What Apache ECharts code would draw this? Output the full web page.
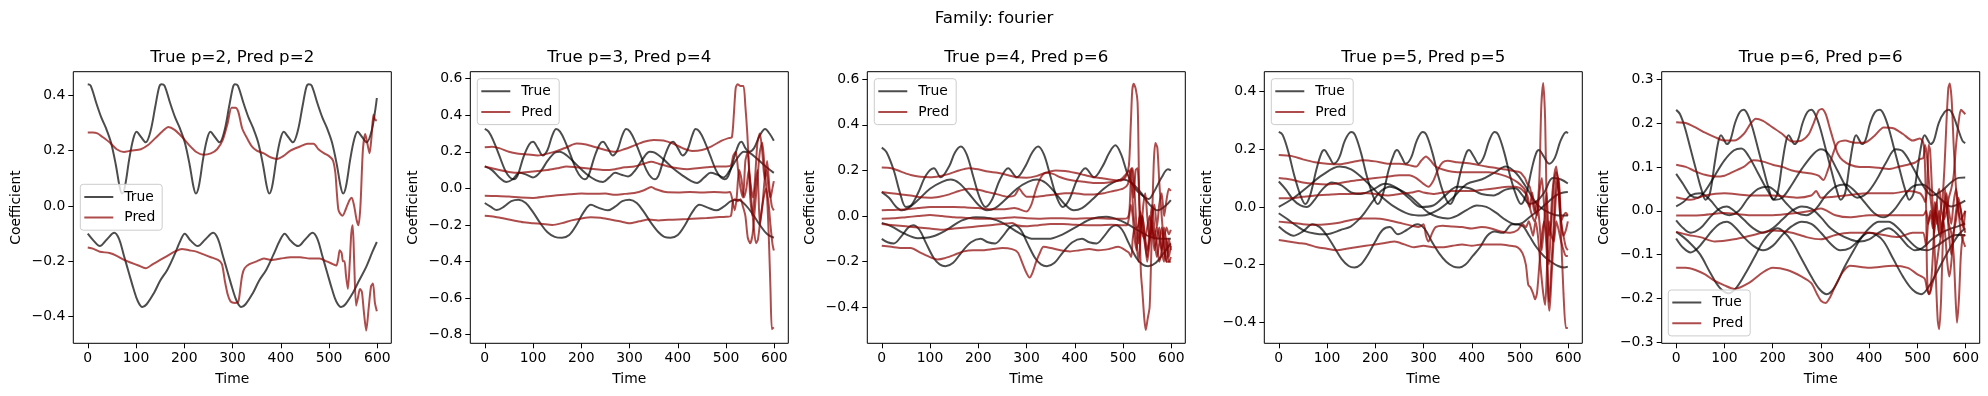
<!DOCTYPE html>
<html><head><meta charset="utf-8">
<script src="https://cdn.jsdelivr.net/npm/echarts@6/dist/echarts.min.js"></script>
<style>html,body{margin:0;padding:0;background:#fff}#c{width:1988px;height:396px}</style>
</head><body><div id="c"></div>
<script>
// ---------- tick labels / titles ----------
const xTicks = [0,100,200,300,400,500,600];
const p1YTicks = [-0.4,-0.2,0,0.2,0.4];
const p2YTicks = [-0.8,-0.6,-0.4,-0.2,0,0.2,0.4,0.6];
const p3YTicks = [-0.4,-0.2,0,0.2,0.4,0.6];
const p4YTicks = [-0.4,-0.2,0,0.2,0.4];
const p5YTicks = [-0.3,-0.2,-0.1,0,0.1,0.2,0.3];
const panelTitles = ["True p=2, Pred p=2","True p=3, Pred p=4","True p=4, Pred p=6","True p=5, Pred p=5","True p=6, Pred p=6"];
const supTitle = "Family: fourier";

// ---------- panel 1 ----------
const p1True1 = [[0,0.44],[6,0.435],[18,0.37],[28,0.32],[38,0.28],[48,0.23],[58,0.15],[66,0.07],[71,0.045],[77,0.07],[86,0.17],[94,0.24],[101,0.268],[110,0.25],[120,0.23],[130,0.27],[140,0.36],[148,0.43],
[153,0.44],[159,0.435],[171,0.37],[181,0.32],[191,0.28],[201,0.23],[211,0.15],[219,0.07],[224,0.045],[230,0.07],[239,0.17],[247,0.24],[254,0.268],[263,0.25],[273,0.23],[283,0.27],[293,0.36],[301,0.43],
[305,0.44],[311,0.435],[323,0.37],[333,0.32],[343,0.28],[353,0.23],[363,0.15],[371,0.07],[376,0.045],[382,0.07],[391,0.17],[399,0.24],[406,0.268],[415,0.25],[425,0.23],[435,0.27],[445,0.36],[453,0.43],
[458,0.44],[464,0.435],[476,0.37],[486,0.32],[496,0.28],[506,0.23],[516,0.15],[524,0.07],[529,0.045],[535,0.07],[544,0.17],[552,0.24],[559,0.268],[568,0.25],[578,0.23],[588,0.27],[596,0.35],[599,0.39]];
const p1True2 = [[0,-0.1],[12,-0.125],[25,-0.145],[40,-0.12],[55,-0.097],[65,-0.12],[75,-0.18],[85,-0.24],[95,-0.3],[104,-0.345],[113,-0.365],[122,-0.355],[137,-0.315],[150,-0.27],[165,-0.23],[180,-0.175],[192,-0.125],
[201,-0.1],[213,-0.125],[228,-0.145],[244,-0.12],[260,-0.097],[270,-0.12],[280,-0.18],[290,-0.24],[300,-0.3],[309,-0.345],[318,-0.365],[327,-0.355],[342,-0.315],[355,-0.27],[370,-0.23],[385,-0.175],[398,-0.125],
[408,-0.1],[420,-0.125],[436,-0.145],[451,-0.12],[466,-0.097],[476,-0.12],[486,-0.18],[496,-0.24],[506,-0.3],[515,-0.345],[525,-0.365],[534,-0.355],[549,-0.315],[562,-0.27],[577,-0.22],[590,-0.165],[599,-0.13]];
const p1Pred1 = [[0,0.265],[10,0.265],[20,0.262],[30,0.25],[45,0.23],[60,0.205],[75,0.195],[90,0.2],[110,0.205],[125,0.22],[140,0.245],[155,0.27],[167,0.285],[180,0.275],[195,0.25],[210,0.22],[225,0.195],[240,0.185],[255,0.19],[268,0.205],[280,0.24],[290,0.3],[298,0.355],[306,0.355],[312,0.34],[320,0.28],[330,0.245],[340,0.215],[350,0.2],[365,0.19],[380,0.175],[392,0.17],[405,0.18],[420,0.2],[440,0.215],[455,0.225],[468,0.225],[478,0.205],[490,0.19],[500,0.18],[508,0.165],[513,0.12],[516,0.05],[519,-0.01],[522,-0.025],[528,-0.035],[535,-0.01],[542,0.02],[547,0.03],[552,0.0],[557,-0.05],[561,-0.07],[565,0.0],[570,0.2],[575,0.26],[580,0.22],[584,0.19],[588,0.25],[592,0.33],[596,0.31],[599,0.31]];
const p1Pred2 = [[0,-0.15],[12,-0.155],[25,-0.165],[45,-0.17],[60,-0.18],[75,-0.195],[90,-0.205],[105,-0.215],[120,-0.225],[135,-0.21],[150,-0.195],[165,-0.18],[180,-0.165],[195,-0.155],[210,-0.16],[225,-0.165],[240,-0.175],[255,-0.185],[270,-0.195],[278,-0.21],[284,-0.27],[290,-0.32],[296,-0.345],[305,-0.35],[312,-0.345],[316,-0.3],[320,-0.25],[325,-0.225],[335,-0.21],[350,-0.2],[365,-0.19],[380,-0.195],[400,-0.19],[420,-0.185],[440,-0.185],[460,-0.19],[480,-0.19],[495,-0.2],[508,-0.21],[515,-0.215],[519,-0.19],[522,-0.16],[526,-0.17],[529,-0.2],[532,-0.2],[535,-0.25],[539,-0.3],[543,-0.2],[546,-0.1],[549,-0.07],[552,-0.2],[556,-0.36],[560,-0.33],[564,-0.3],[568,-0.31],[572,-0.38],[577,-0.45],[582,-0.37],[587,-0.29],[591,-0.28],[595,-0.35],[599,-0.38]];

// ---------- panel 2 ----------
const p2True1 = [[0,0.325],[8,0.31],[18,0.26],[30,0.18],[42,0.1],[52,0.06],[60,0.05],[68,0.07],[80,0.17],[92,0.24],[100,0.255],[110,0.22],[120,0.18],[130,0.21],[140,0.29],[148,0.325],[156,0.31],[166,0.26],[178,0.18],[190,0.1],[200,0.06],[207,0.05],[215,0.07],[227,0.17],[238,0.24],[245,0.255],[255,0.22],[265,0.18],[275,0.21],[285,0.29],[293,0.325],[301,0.31],[311,0.26],[323,0.18],[335,0.1],[345,0.06],[352,0.05],[360,0.07],[372,0.17],[383,0.24],[390,0.255],[400,0.22],[410,0.18],[420,0.21],[430,0.29],[437,0.325],[445,0.31],[455,0.26],[467,0.18],[479,0.1],[489,0.06],[497,0.05],[505,0.07],[517,0.17],[526,0.24],[532,0.255],[540,0.22],[548,0.2],[558,0.22],[570,0.29],[581,0.325],[590,0.3],[599,0.26]];
const p2True2 = [[0,0.12],[15,0.1],[30,0.06],[45,0.035],[58,0.05],[72,0.085],[86,0.075],[100,0.06],[115,0.09],[130,0.15],[145,0.195],[155,0.2],[170,0.18],[190,0.13],[210,0.08],[230,0.045],[245,0.035],[258,0.06],[270,0.085],[283,0.075],[297,0.065],[312,0.1],[327,0.16],[342,0.2],[352,0.195],[370,0.16],[390,0.11],[410,0.07],[428,0.04],[440,0.03],[455,0.06],[468,0.085],[482,0.075],[495,0.06],[508,0.1],[522,0.16],[537,0.2],[548,0.195],[565,0.16],[582,0.12],[599,0.085]];
const p2True3 = [[0,-0.08],[12,-0.1],[25,-0.118],[40,-0.1],[55,-0.07],[70,-0.062],[85,-0.08],[100,-0.13],[115,-0.19],[130,-0.24],[145,-0.265],[160,-0.27],[175,-0.255],[190,-0.2],[205,-0.13],[220,-0.09],[235,-0.105],[255,-0.12],[270,-0.1],[285,-0.07],[300,-0.062],[315,-0.08],[330,-0.13],[345,-0.19],[360,-0.24],[372,-0.265],[385,-0.27],[400,-0.255],[415,-0.2],[430,-0.13],[445,-0.09],[462,-0.105],[480,-0.12],[495,-0.1],[510,-0.07],[525,-0.062],[540,-0.09],[555,-0.14],[570,-0.2],[585,-0.25],[599,-0.27]];
const p2Pred1 = [[0,0.225],[15,0.228],[30,0.22],[50,0.2],[70,0.19],[90,0.185],[110,0.18],[130,0.19],[150,0.205],[170,0.225],[190,0.245],[210,0.24],[230,0.225],[250,0.21],[270,0.2],[290,0.215],[310,0.235],[330,0.255],[350,0.265],[370,0.262],[390,0.245],[410,0.22],[430,0.205],[450,0.21],[470,0.23],[490,0.26],[505,0.275],[512,0.28],[516,0.4],[520,0.55],[524,0.57],[530,0.56],[536,0.56],[540,0.45],[544,0.3],[548,0.1],[552,0.0],[556,-0.05],[560,0.05],[565,0.25],[570,0.3],[575,0.2],[580,0.05],[584,0.1],[588,0.0],[592,-0.05],[596,0.0],[599,0.04]];
const p2Pred2 = [[0,0.12],[15,0.11],[30,0.1],[50,0.09],[70,0.085],[90,0.09],[110,0.095],[130,0.1],[150,0.11],[170,0.12],[190,0.115],[210,0.11],[230,0.105],[250,0.1],[270,0.105],[290,0.115],[310,0.12],[330,0.135],[345,0.145],[360,0.135],[380,0.12],[400,0.11],[420,0.105],[440,0.11],[460,0.115],[480,0.12],[500,0.12],[510,0.125],[515,0.18],[520,0.2],[525,0.1],[530,0.0],[535,-0.05],[540,0.15],[545,0.2],[550,-0.05],[555,-0.15],[560,0.0],[565,0.1],[570,-0.2],[575,-0.1],[580,0.05],[585,0.15],[590,0.0],[595,-0.1],[599,-0.12]];
const p2Pred3 = [[0,-0.04],[25,-0.042],[50,-0.045],[75,-0.05],[100,-0.052],[125,-0.045],[150,-0.038],[175,-0.032],[200,-0.028],[225,-0.03],[250,-0.028],[270,-0.035],[290,-0.03],[310,-0.025],[330,-0.01],[345,0.008],[355,-0.005],[375,-0.02],[400,-0.022],[425,-0.02],[450,-0.022],[475,-0.02],[500,-0.022],[508,-0.02],[512,-0.05],[518,-0.12],[522,-0.05],[527,0.1],[532,0.05],[537,-0.05],[542,0.0],[547,0.1],[552,-0.05],[557,-0.2],[562,-0.3],[566,-0.28],[572,-0.15],[578,-0.05],[583,0.0],[588,-0.08],[592,-0.2],[596,-0.3],[599,-0.34]];
const p2Pred4 = [[0,-0.15],[20,-0.155],[40,-0.165],[60,-0.175],[80,-0.185],[100,-0.19],[120,-0.195],[140,-0.2],[160,-0.19],[180,-0.175],[200,-0.165],[220,-0.158],[240,-0.16],[260,-0.17],[280,-0.18],[300,-0.19],[320,-0.18],[340,-0.17],[360,-0.175],[380,-0.172],[400,-0.17],[420,-0.168],[440,-0.165],[460,-0.162],[480,-0.158],[500,-0.155],[510,-0.15],[514,-0.07],[518,-0.06],[524,-0.07],[530,-0.06],[535,-0.1],[540,-0.15],[545,-0.27],[550,-0.3],[555,-0.25],[560,-0.1],[565,0.05],[570,0.2],[575,0.25],[580,0.1],[585,-0.05],[589,-0.3],[592,-0.55],[595,-0.77],[599,-0.76]];

// ---------- panel 3 ----------
const p3True1 = [[0,0.3],[10,0.28],[25,0.2],[38,0.1],[50,0.04],[60,0.045],[75,0.1],[92,0.18],[108,0.21],[122,0.17],[140,0.22],[152,0.28],[164,0.305],[176,0.27],[190,0.17],[203,0.08],[215,0.04],[228,0.07],[245,0.16],[262,0.21],[280,0.17],[298,0.22],[312,0.28],[324,0.305],[336,0.27],[350,0.17],[363,0.08],[375,0.04],[388,0.07],[405,0.16],[422,0.21],[440,0.17],[458,0.22],[472,0.28],[484,0.31],[496,0.27],[510,0.18],[525,0.12],[540,0.09],[553,0.075],[565,0.11],[580,0.17],[593,0.205],[599,0.2]];
const p3True2 = [[0,0.105],[15,0.08],[30,0.04],[42,0.025],[55,0.035],[75,0.07],[100,0.12],[125,0.15],[143,0.16],[160,0.145],[180,0.1],[200,0.05],[218,0.025],[235,0.035],[255,0.07],[280,0.12],[303,0.15],[322,0.16],[340,0.145],[360,0.1],[380,0.05],[398,0.025],[415,0.035],[435,0.07],[460,0.12],[482,0.15],[500,0.16],[518,0.145],[538,0.1],[555,0.05],[572,0.025],[588,0.045],[599,0.07]];
const p3True3 = [[0,-0.03],[20,-0.045],[45,-0.075],[75,-0.097],[105,-0.09],[135,-0.06],[165,-0.02],[195,-0.005],[225,-0.01],[255,-0.035],[285,-0.075],[315,-0.1],[345,-0.1],[375,-0.08],[405,-0.045],[435,-0.012],[465,-0.003],[495,-0.02],[525,-0.055],[555,-0.09],[580,-0.1],[599,-0.1]];
const p3True4 = [[0,-0.1],[12,-0.115],[25,-0.12],[40,-0.09],[55,-0.05],[65,-0.04],[78,-0.06],[92,-0.12],[108,-0.185],[120,-0.212],[132,-0.22],[148,-0.205],[165,-0.16],[185,-0.115],[205,-0.1],[220,-0.115],[235,-0.12],[250,-0.09],[265,-0.05],[275,-0.04],[288,-0.06],[302,-0.12],[318,-0.185],[330,-0.212],[342,-0.22],[358,-0.205],[375,-0.16],[395,-0.115],[415,-0.1],[430,-0.115],[445,-0.12],[460,-0.09],[475,-0.05],[485,-0.04],[498,-0.06],[512,-0.12],[528,-0.185],[540,-0.212],[552,-0.22],[568,-0.205],[585,-0.16],[599,-0.12]];
const p3Pred1 = [[0,0.213],[20,0.21],[40,0.195],[60,0.18],[80,0.172],[100,0.17],[120,0.175],[140,0.185],[160,0.2],[180,0.21],[200,0.205],[220,0.195],[240,0.19],[260,0.18],[280,0.17],[300,0.168],[320,0.175],[340,0.19],[360,0.2],[380,0.198],[400,0.19],[420,0.18],[440,0.17],[460,0.165],[480,0.158],[495,0.155],[505,0.17],[512,0.22],[516,0.4],[519,0.55],[522,0.58],[526,0.56],[530,0.5],[532,0.3],[534,0.0],[537,-0.25],[540,-0.33],[544,-0.45],[547,-0.5],[551,-0.45],[555,-0.4],[558,-0.2],[561,0.05],[564,0.25],[567,0.32],[571,0.3],[575,0.15],[580,0.0],[585,-0.12],[590,-0.2],[595,-0.2],[599,-0.18]];
const p3Pred2 = [[0,0.105],[20,0.1],[40,0.095],[60,0.09],[80,0.082],[100,0.08],[120,0.085],[140,0.095],[160,0.11],[180,0.12],[200,0.115],[220,0.105],[240,0.095],[260,0.085],[275,0.09],[285,0.12],[292,0.1],[300,0.085],[320,0.085],[340,0.09],[360,0.095],[380,0.1],[400,0.1],[420,0.095],[440,0.095],[460,0.1],[480,0.11],[500,0.12],[510,0.14],[515,0.2],[518,0.21],[522,0.08],[526,0.2],[530,0.21],[534,0.05],[538,-0.05],[542,0.05],[546,0.1],[550,0.0],[555,-0.1],[560,0.0],[565,0.05],[570,-0.05],[575,0.05],[580,0.1],[585,0.0],[590,0.07],[595,0.12],[599,0.11]];
const p3Pred3 = [[0,0.025],[25,0.027],[50,0.03],[75,0.035],[100,0.04],[125,0.04],[150,0.04],[175,0.038],[200,0.035],[225,0.03],[250,0.03],[275,0.035],[300,0.02],[310,0.05],[320,0.12],[330,0.17],[340,0.19],[355,0.185],[370,0.17],[385,0.16],[400,0.155],[420,0.15],[440,0.145],[460,0.145],[480,0.15],[495,0.16],[505,0.18],[512,0.2],[518,0.12],[522,0.0],[526,-0.05],[530,-0.05],[535,0.0],[540,-0.08],[545,-0.1],[550,-0.05],[555,0.0],[560,-0.05],[565,-0.1],[570,-0.05],[575,-0.1],[580,-0.15],[585,-0.1],[590,-0.05],[595,-0.08],[599,-0.06]];
const p3Pred4 = [[0,-0.012],[25,-0.01],[50,-0.005],[75,0.0],[100,0.005],[125,0.0],[150,-0.005],[175,-0.008],[200,-0.012],[225,-0.012],[250,-0.01],[275,-0.005],[300,-0.01],[325,-0.012],[350,-0.01],[375,-0.01],[400,-0.012],[425,-0.01],[450,-0.01],[475,-0.012],[500,-0.012],[508,-0.01],[513,0.02],[517,0.2],[520,0.21],[524,0.1],[528,-0.05],[532,-0.12],[536,-0.05],[540,0.0],[545,-0.08],[550,-0.15],[555,-0.1],[560,-0.02],[565,-0.1],[570,-0.18],[575,-0.12],[580,-0.05],[585,-0.15],[590,-0.2],[595,-0.1],[599,-0.15]];
const p3Pred5 = [[0,-0.035],[25,-0.04],[50,-0.045],[75,-0.05],[100,-0.055],[125,-0.06],[150,-0.055],[175,-0.05],[200,-0.045],[225,-0.04],[250,-0.035],[270,-0.03],[280,-0.04],[300,-0.045],[325,-0.04],[350,-0.035],[375,-0.035],[400,-0.038],[425,-0.04],[450,-0.04],[475,-0.038],[500,-0.04],[508,-0.04],[512,-0.01],[516,0.05],[520,0.0],[524,-0.1],[528,-0.15],[532,-0.05],[536,0.02],[540,-0.05],[545,-0.12],[550,-0.18],[555,-0.05],[560,0.05],[565,-0.05],[570,-0.12],[575,-0.2],[580,-0.15],[585,-0.05],[590,-0.12],[595,-0.2],[599,-0.2]];
const p3Pred6 = [[0,-0.13],[20,-0.135],[40,-0.14],[60,-0.14],[80,-0.16],[100,-0.18],[115,-0.19],[130,-0.185],[150,-0.17],[170,-0.155],[190,-0.15],[210,-0.15],[230,-0.145],[250,-0.14],[270,-0.145],[282,-0.16],[292,-0.21],[300,-0.25],[306,-0.27],[312,-0.25],[320,-0.2],[328,-0.16],[335,-0.135],[350,-0.14],[370,-0.15],[390,-0.155],[410,-0.15],[430,-0.145],[450,-0.15],[470,-0.145],[490,-0.135],[505,-0.15],[512,-0.16],[517,-0.18],[520,-0.1],[524,-0.05],[528,-0.12],[532,-0.2],[536,-0.1],[540,0.0],[545,-0.1],[550,-0.2],[555,-0.12],[560,-0.05],[565,-0.15],[570,-0.1],[575,-0.05],[580,-0.15],[585,-0.2],[590,-0.1],[595,-0.18],[599,-0.13]];

// ---------- panel 4 ----------
const p4True1 = [[0,0.26],[8,0.25],[20,0.19],[32,0.11],[45,0.04],[55,0.01],[65,0.04],[78,0.13],[88,0.185],[94,0.197],[104,0.175],[114,0.15],[125,0.17],[137,0.23],[150,0.26],[158,0.25],[170,0.19],[182,0.11],[195,0.04],[205,0.01],[215,0.04],[228,0.13],[239,0.185],[245,0.197],[254,0.175],[263,0.15],[274,0.17],[286,0.23],[298,0.26],[306,0.25],[318,0.19],[330,0.11],[343,0.04],[355,0.01],[365,0.04],[378,0.13],[388,0.185],[394,0.197],[404,0.175],[414,0.15],[424,0.17],[436,0.23],[447,0.26],[455,0.25],[467,0.19],[479,0.11],[492,0.04],[502,0.01],[512,0.04],[524,0.13],[533,0.185],[539,0.197],[549,0.175],[560,0.15],[572,0.17],[584,0.23],[596,0.26],[599,0.255]];
const p4True2 = [[0,0.088],[15,0.06],[30,0.025],[45,0.005],[58,0.0],[72,0.02],[90,0.06],[110,0.085],[130,0.075],[150,0.05],[170,0.045],[195,0.06],[220,0.08],[245,0.065],[270,0.03],[295,0.0],[320,0.005],[345,0.04],[370,0.07],[395,0.065],[420,0.045],[445,0.04],[470,0.06],[490,0.065],[505,0.04],[520,0.01],[535,0.02],[550,0.05],[568,0.1],[585,0.095],[599,0.081]];
const p4True3 = [[0,0.0],[30,0.03],[60,0.07],[90,0.11],[126,0.14],[150,0.13],[180,0.09],[210,0.04],[240,0.0],[270,-0.025],[297,-0.03],[330,-0.01],[360,0.03],[390,0.08],[420,0.095],[448,0.12],[470,0.14],[490,0.12],[510,0.075],[535,0.01],[560,-0.02],[580,-0.03],[599,-0.03]];
const p4True4 = [[0,-0.022],[20,-0.045],[39,-0.068],[56,-0.085],[74,-0.092],[92,-0.095],[108,-0.092],[128,-0.08],[149,-0.068],[165,-0.045],[177,-0.022],[195,0.02],[212,0.055],[230,0.07],[250,0.06],[270,0.04],[290,0.01],[310,-0.02],[330,-0.035],[350,-0.04],[370,-0.03],[390,-0.01],[410,0.005],[430,0.0],[450,-0.02],[470,-0.045],[490,-0.06],[505,-0.055],[520,-0.035],[540,-0.01],[560,0.02],[580,0.045],[599,0.052]];
const p4True5 = [[0,-0.068],[15,-0.088],[30,-0.1],[50,-0.085],[70,-0.06],[85,-0.07],[100,-0.1],[115,-0.14],[130,-0.18],[145,-0.205],[157,-0.21],[170,-0.2],[185,-0.165],[200,-0.12],[215,-0.08],[230,-0.07],[247,-0.095],[265,-0.08],[287,-0.06],[302,-0.075],[317,-0.12],[332,-0.16],[347,-0.19],[362,-0.207],[374,-0.21],[387,-0.2],[402,-0.17],[417,-0.14],[432,-0.1],[447,-0.085],[464,-0.09],[484,-0.06],[504,-0.065],[519,-0.1],[534,-0.14],[549,-0.17],[564,-0.19],[579,-0.205],[591,-0.21],[599,-0.207]];
const p4Pred1 = [[0,0.18],[25,0.177],[50,0.165],[75,0.155],[100,0.15],[125,0.148],[150,0.155],[175,0.162],[200,0.158],[225,0.15],[250,0.15],[270,0.145],[285,0.14],[295,0.16],[305,0.175],[315,0.16],[325,0.14],[340,0.13],[360,0.122],[385,0.12],[410,0.12],[435,0.12],[460,0.112],[480,0.1],[495,0.085],[505,0.07],[510,0.06],[515,0.02],[520,0.0],[525,0.05],[530,0.0],[535,-0.03],[540,0.05],[545,0.1],[550,0.0],[555,-0.1],[560,-0.2],[565,0.0],[570,0.1],[575,0.14],[580,0.05],[585,-0.05],[590,-0.03],[595,-0.02],[599,-0.03]];
const p4Pred2 = [[0,0.1],[25,0.095],[50,0.085],[75,0.08],[100,0.078],[125,0.082],[150,0.09],[175,0.095],[200,0.1],[225,0.105],[250,0.11],[270,0.11],[285,0.1],[300,0.08],[310,0.07],[320,0.09],[330,0.13],[340,0.155],[350,0.16],[370,0.155],[400,0.15],[430,0.14],[450,0.135],[470,0.13],[485,0.125],[500,0.12],[510,0.1],[515,0.08],[520,0.07],[525,0.03],[530,-0.02],[535,0.02],[540,-0.05],[545,-0.15],[550,-0.05],[555,0.05],[560,-0.1],[565,-0.05],[570,0.08],[575,0.12],[580,0.08],[585,-0.05],[590,-0.1],[595,-0.08],[599,-0.05]];
const p4Pred3 = [[0,0.03],[25,0.03],[50,0.035],[75,0.04],[100,0.042],[125,0.045],[150,0.045],[175,0.048],[200,0.045],[225,0.04],[250,0.045],[275,0.05],[290,0.055],[300,0.05],[320,0.045],[340,0.05],[360,0.055],[380,0.055],[400,0.055],[425,0.06],[450,0.065],[475,0.07],[490,0.07],[500,0.065],[510,0.05],[515,0.04],[520,0.0],[525,-0.03],[530,-0.05],[535,-0.02],[540,0.1],[544,0.35],[548,0.43],[552,0.3],[555,0.0],[558,-0.3],[561,-0.36],[565,-0.25],[570,-0.1],[575,0.05],[580,0.1],[585,-0.05],[590,-0.1],[595,-0.14],[599,-0.15]];
const p4Pred4 = [[0,-0.051],[25,-0.055],[50,-0.06],[75,-0.062],[100,-0.06],[125,-0.055],[150,-0.045],[175,-0.04],[200,-0.04],[225,-0.045],[250,-0.055],[275,-0.065],[290,-0.07],[300,-0.06],[305,-0.1],[310,-0.12],[318,-0.09],[325,-0.07],[340,-0.065],[360,-0.068],[380,-0.07],[400,-0.075],[420,-0.07],[440,-0.075],[460,-0.085],[480,-0.09],[495,-0.08],[505,-0.06],[512,-0.07],[518,-0.05],[522,-0.07],[527,-0.1],[532,-0.05],[537,-0.1],[542,-0.2],[548,-0.3],[552,-0.34],[556,-0.2],[560,-0.05],[565,-0.1],[570,-0.12],[575,-0.05],[580,-0.08],[585,-0.12],[590,-0.15],[595,-0.17],[599,-0.17]];
const p4Pred5 = [[0,-0.115],[20,-0.12],[40,-0.125],[60,-0.13],[80,-0.14],[100,-0.145],[120,-0.15],[140,-0.145],[160,-0.14],[180,-0.135],[200,-0.13],[220,-0.125],[240,-0.12],[260,-0.13],[280,-0.14],[300,-0.135],[320,-0.14],[340,-0.14],[360,-0.135],[380,-0.13],[400,-0.135],[420,-0.13],[440,-0.13],[460,-0.13],[480,-0.135],[495,-0.14],[505,-0.16],[512,-0.2],[517,-0.27],[522,-0.28],[527,-0.3],[531,-0.32],[535,-0.3],[540,-0.2],[545,-0.1],[550,-0.05],[555,-0.15],[560,-0.33],[565,-0.2],[570,-0.05],[575,0.1],[580,0.05],[585,-0.1],[590,-0.3],[595,-0.42],[599,-0.42]];

// ---------- panel 5 ----------
const p5True1 = [[0,0.23],[8,0.22],[18,0.19],[30,0.14],[42,0.09],[52,0.05],[61,0.025],[70,0.04],[80,0.11],[88,0.16],[93,0.172],[100,0.16],[105,0.152],[112,0.16],[122,0.2],[132,0.225],[140,0.23],[148,0.22],[158,0.19],[170,0.14],[182,0.09],[192,0.05],[201,0.025],[210,0.04],[220,0.11],[228,0.16],[233,0.172],[240,0.16],[245,0.152],[252,0.16],[262,0.2],[272,0.225],[280,0.23],[288,0.22],[298,0.19],[310,0.14],[322,0.09],[332,0.05],[341,0.025],[350,0.04],[360,0.11],[368,0.16],[373,0.172],[380,0.16],[385,0.152],[392,0.16],[402,0.2],[412,0.225],[422,0.23],[430,0.22],[440,0.19],[452,0.14],[464,0.09],[474,0.05],[483,0.025],[492,0.04],[502,0.11],[510,0.16],[515,0.172],[522,0.16],[527,0.152],[534,0.16],[544,0.2],[556,0.225],[565,0.23],[573,0.22],[583,0.19],[593,0.16],[599,0.154]];
const p5True2 = [[0,0.084],[15,0.06],[30,0.035],[45,0.03],[60,0.045],[80,0.08],[100,0.115],[120,0.138],[135,0.142],[150,0.125],[170,0.085],[190,0.045],[205,0.025],[220,0.03],[240,0.06],[260,0.095],[285,0.13],[300,0.14],[315,0.13],[335,0.09],[355,0.05],[375,0.03],[395,0.04],[415,0.07],[435,0.11],[455,0.14],[470,0.135],[490,0.1],[510,0.06],[530,0.035],[550,0.045],[570,0.065],[585,0.075],[599,0.076]];
const p5True3 = [[0,0.01],[15,0.02],[30,0.035],[50,0.04],[70,0.025],[90,0.0],[110,-0.01],[130,0.0],[150,0.03],[170,0.05],[190,0.055],[210,0.04],[230,0.015],[250,-0.005],[270,-0.01],[290,0.005],[310,0.035],[330,0.055],[350,0.06],[370,0.045],[390,0.02],[410,-0.005],[430,-0.015],[450,0.0],[470,0.03],[490,0.055],[510,0.06],[530,0.045],[550,0.025],[570,0.01],[585,0.015],[599,0.023]];
const p5True4 = [[0,-0.022],[15,-0.04],[30,-0.05],[50,-0.04],[70,-0.015],[90,0.005],[105,0.01],[120,0.0],[140,-0.02],[160,-0.04],[180,-0.05],[200,-0.04],[220,-0.02],[240,0.0],[260,0.01],[280,0.005],[300,-0.015],[320,-0.04],[340,-0.055],[360,-0.065],[380,-0.07],[400,-0.065],[420,-0.05],[440,-0.04],[460,-0.055],[480,-0.08],[495,-0.09],[510,-0.085],[530,-0.065],[550,-0.05],[570,-0.04],[585,-0.035],[599,-0.029]];
const p5True5 = [[0,-0.048],[15,-0.06],[30,-0.075],[50,-0.1],[70,-0.14],[90,-0.175],[109,-0.188],[125,-0.175],[145,-0.14],[165,-0.1],[180,-0.07],[195,-0.05],[210,-0.04],[225,-0.05],[240,-0.07],[260,-0.11],[280,-0.15],[298,-0.18],[312,-0.19],[328,-0.175],[348,-0.13],[368,-0.09],[385,-0.06],[400,-0.05],[415,-0.055],[430,-0.07],[450,-0.11],[470,-0.15],[490,-0.18],[508,-0.19],[525,-0.17],[545,-0.13],[565,-0.09],[585,-0.055],[599,-0.04]];
const p5True6 = [[0,-0.063],[15,-0.085],[30,-0.095],[45,-0.085],[60,-0.065],[75,-0.045],[90,-0.03],[105,-0.025],[120,-0.035],[140,-0.06],[160,-0.08],[180,-0.09],[200,-0.08],[220,-0.055],[240,-0.035],[260,-0.025],[280,-0.03],[300,-0.05],[320,-0.075],[340,-0.09],[360,-0.085],[380,-0.065],[400,-0.04],[420,-0.025],[440,-0.025],[460,-0.04],[480,-0.065],[500,-0.085],[520,-0.09],[540,-0.08],[560,-0.065],[580,-0.055],[599,-0.055]];
const p5Pred1 = [[0,0.202],[20,0.2],[40,0.19],[60,0.178],[80,0.168],[100,0.16],[120,0.16],[140,0.175],[155,0.2],[165,0.21],[180,0.205],[200,0.19],[220,0.175],[240,0.158],[260,0.16],[275,0.175],[285,0.2],[295,0.228],[302,0.232],[310,0.22],[318,0.19],[326,0.16],[335,0.13],[345,0.115],[360,0.105],[380,0.1],[400,0.1],[420,0.098],[440,0.095],[460,0.1],[480,0.105],[495,0.11],[505,0.118],[512,0.12],[516,0.15],[520,0.12],[525,0.05],[530,0.0],[535,-0.05],[540,0.02],[545,0.05],[550,0.0],[555,-0.02],[560,0.0],[565,0.03],[570,0.05],[575,0.08],[580,0.15],[585,0.2],[590,0.23],[595,0.225],[599,0.22]];
const p5Pred2 = [[0,0.105],[20,0.1],[40,0.09],[60,0.082],[80,0.078],[100,0.08],[120,0.09],[140,0.1],[160,0.115],[180,0.112],[200,0.105],[220,0.1],[240,0.092],[260,0.088],[280,0.085],[295,0.08],[305,0.07],[315,0.095],[325,0.13],[335,0.155],[350,0.16],[370,0.155],[390,0.155],[410,0.17],[430,0.19],[450,0.188],[470,0.175],[490,0.16],[505,0.165],[512,0.155],[515,0.12],[518,0.0],[520,-0.15],[523,-0.19],[527,-0.18],[532,-0.1],[536,0.0],[540,0.02],[544,-0.05],[548,0.0],[552,0.03],[556,0.1],[560,0.2],[564,0.28],[567,0.29],[571,0.25],[575,0.15],[580,0.05],[585,0.0],[590,-0.02],[595,-0.01],[599,0.0]];
const p5Pred3 = [[0,0.031],[30,0.025],[60,0.035],[100,0.04],[150,0.035],[200,0.035],[250,0.03],[280,0.035],[290,0.045],[300,0.03],[350,0.035],[400,0.04],[450,0.04],[480,0.045],[505,0.04],[512,0.03],[516,0.02],[520,0.05],[523,0.15],[526,0.14],[530,0.05],[534,-0.05],[538,-0.15],[542,-0.25],[545,-0.27],[549,-0.2],[553,-0.05],[557,0.05],[561,0.0],[565,-0.03],[570,-0.05],[575,-0.1],[579,-0.2],[582,-0.255],[586,-0.2],[590,-0.1],[594,-0.06],[599,-0.055]];
const p5Pred4 = [[0,-0.011],[50,-0.01],[100,-0.005],[150,-0.01],[200,-0.01],[250,-0.005],[280,0.0],[300,0.005],[330,-0.01],[360,-0.015],[400,-0.01],[450,-0.01],[480,-0.01],[505,-0.01],[512,-0.01],[518,0.0],[522,-0.03],[527,0.0],[532,-0.02],[536,0.02],[540,-0.03],[545,0.0],[550,-0.05],[555,0.0],[560,0.04],[565,0.0],[570,-0.03],[575,0.02],[580,0.05],[585,0.0],[590,-0.05],[595,-0.07],[599,-0.082]];
const p5Pred5 = [[0,-0.048],[25,-0.055],[50,-0.06],[80,-0.07],[120,-0.065],[160,-0.055],[200,-0.045],[240,-0.05],[270,-0.06],[300,-0.065],[330,-0.055],[360,-0.05],[400,-0.05],[430,-0.055],[460,-0.06],[490,-0.05],[505,-0.05],[512,-0.05],[518,-0.08],[522,-0.03],[527,-0.01],[532,-0.04],[537,0.0],[542,-0.03],[547,-0.06],[552,-0.02],[557,-0.05],[562,-0.12],[566,-0.15],[570,-0.12],[575,-0.05],[580,-0.02],[585,0.02],[590,0.0],[595,-0.03],[599,-0.05]];
const p5Pred6 = [[0,-0.13],[20,-0.13],[40,-0.135],[60,-0.145],[80,-0.16],[100,-0.17],[120,-0.178],[150,-0.165],[180,-0.14],[200,-0.13],[230,-0.135],[260,-0.15],[280,-0.165],[292,-0.19],[300,-0.205],[310,-0.21],[320,-0.195],[330,-0.17],[345,-0.14],[360,-0.125],[400,-0.13],[450,-0.125],[480,-0.13],[500,-0.145],[515,-0.155],[520,-0.18],[525,-0.19],[530,-0.17],[535,-0.15],[540,-0.12],[545,-0.08],[550,-0.05],[555,0.0],[560,0.02],[565,-0.05],[570,-0.1],[575,-0.05],[580,0.0],[585,0.03],[590,0.0],[595,-0.04],[599,0.0]];

// ---------- layout ----------
const gridLefts = [73.3, 470.3, 867.3, 1264.3, 1661.7];
const gridTop = 71.7, gridW = 318, gridH = 271.6;
const panels = [
  {trues:[p1True1,p1True2], preds:[p1Pred1,p1Pred2], yMin:-0.496, yMax:0.485, yTicks:p1YTicks, leg:[80.3,184.3]},
  {trues:[p2True1,p2True2,p2True3], preds:[p2Pred1,p2Pred2,p2Pred3,p2Pred4], yMin:-0.847, yMax:0.638, yTicks:p2YTicks, leg:[477.3,78.7]},
  {trues:[p3True1,p3True2,p3True3,p3True4], preds:[p3Pred1,p3Pred2,p3Pred3,p3Pred4,p3Pred5,p3Pred6], yMin:-0.558, yMax:0.633, yTicks:p3YTicks, leg:[874.3,78.7]},
  {trues:[p4True1,p4True2,p4True3,p4True4,p4True5], preds:[p4Pred1,p4Pred2,p4Pred3,p4Pred4,p4Pred5], yMin:-0.473, yMax:0.469, yTicks:p4YTicks, leg:[1271.3,78.7]},
  {trues:[p5True1,p5True2,p5True3,p5True4,p5True5,p5True6], preds:[p5Pred1,p5Pred2,p5Pred3,p5Pred4,p5Pred5,p5Pred6], yMin:-0.302, yMax:0.317, yTicks:p5YTicks, leg:[1668.3,290]}
];

const FONT = '"DejaVu Sans", "Liberation Sans", sans-serif';
const TRUE_C = 'rgba(0,0,0,0.7)';
const PRED_C = 'rgba(139,0,0,0.7)';
const fmt = v => (v < -1e-9 ? '\u2212' : '') + Math.abs(v).toFixed(1);

const grids = [], xAxes = [], yAxes = [], series = [], legends = [], graphics = [];
panels.forEach((p, i) => {
  const L = gridLefts[i];
  grids.push({left: L, top: gridTop, width: gridW, height: gridH, show: true, borderColor: '#000', borderWidth: 1, backgroundColor: 'transparent', containLabel: false});
  xAxes.push({type: 'value', gridIndex: i, min: -29.95, max: 628.95, position: 'bottom',
    axisLine: {show: false, onZero: false}, splitLine: {show: false},
    axisTick: {show: true, length: 5, inside: false, customValues: xTicks, lineStyle: {color: '#000', width: 1}},
    axisLabel: {show: true, customValues: xTicks, margin: 8, color: '#000', fontSize: 13.9, fontFamily: FONT, formatter: v => String(v)}});
  yAxes.push({type: 'value', gridIndex: i, min: p.yMin, max: p.yMax, position: 'left',
    axisLine: {show: false, onZero: false}, splitLine: {show: false},
    axisTick: {show: true, length: 5, inside: false, customValues: p.yTicks, lineStyle: {color: '#000', width: 1}},
    axisLabel: {show: true, customValues: p.yTicks, margin: 8, color: '#000', fontSize: 13.9, fontFamily: FONT, formatter: fmt}});
  const n = Math.max(p.trues.length, p.preds.length);
  for (let j = 0; j < n; j++) {
    if (p.trues[j]) series.push({type: 'line', name: 'True', xAxisIndex: i, yAxisIndex: i, data: p.trues[j], smooth: 0.35, showSymbol: false, symbol: 'none', silent: true,
      lineStyle: {color: TRUE_C, width: 2}, itemStyle: {color: TRUE_C}, z: 2});
    if (p.preds[j]) series.push({type: 'line', name: 'Pred', xAxisIndex: i, yAxisIndex: i, data: p.preds[j], smooth: 0.25, showSymbol: false, symbol: 'none', silent: true,
      lineStyle: {color: PRED_C, width: 2}, itemStyle: {color: PRED_C}, z: 3});
  }
  legends.push({data: ['True', 'Pred'], orient: 'vertical', left: p.leg[0], top: p.leg[1],
    icon: 'path://M0,0H29V2H0Z M35,0H35.01V2H35Z', itemWidth: 35, itemHeight: 2, itemGap: 6.7,
    padding: [5.6, 7, 5.6, 4], backgroundColor: 'rgba(255,255,255,0.8)', borderColor: '#cccccc', borderWidth: 1, borderRadius: 3,
    selectedMode: false, textStyle: {fontSize: 13.9, color: '#000', fontFamily: FONT}, z: 10});
  graphics.push({type: 'text', x: L + gridW / 2, y: 57.7, style: {text: panelTitles[i], fontSize: 16.67, fontFamily: FONT, fill: '#000', align: 'center', verticalAlign: 'middle'}});
  graphics.push({type: 'text', x: L + gridW / 2, y: 379, style: {text: 'Time', fontSize: 13.9, fontFamily: FONT, fill: '#000', align: 'center', verticalAlign: 'middle'}});
  graphics.push({type: 'text', x: L - 57, y: gridTop + gridH / 2, rotation: Math.PI / 2, style: {text: 'Coefficient', fontSize: 13.9, fontFamily: FONT, fill: '#000', align: 'center', verticalAlign: 'middle'}});
});
graphics.push({type: 'text', x: 994, y: 18.3, style: {text: supTitle, fontSize: 16.67, fontFamily: FONT, fill: '#000', align: 'center', verticalAlign: 'middle'}});

const chart = echarts.init(document.getElementById('c'), null, {renderer: 'canvas'});
chart.setOption({
  animation: false,
  backgroundColor: '#fff',
  grid: grids, xAxis: xAxes, yAxis: yAxes, series: series, legend: legends, graphic: graphics
});
</script>
</body></html>
